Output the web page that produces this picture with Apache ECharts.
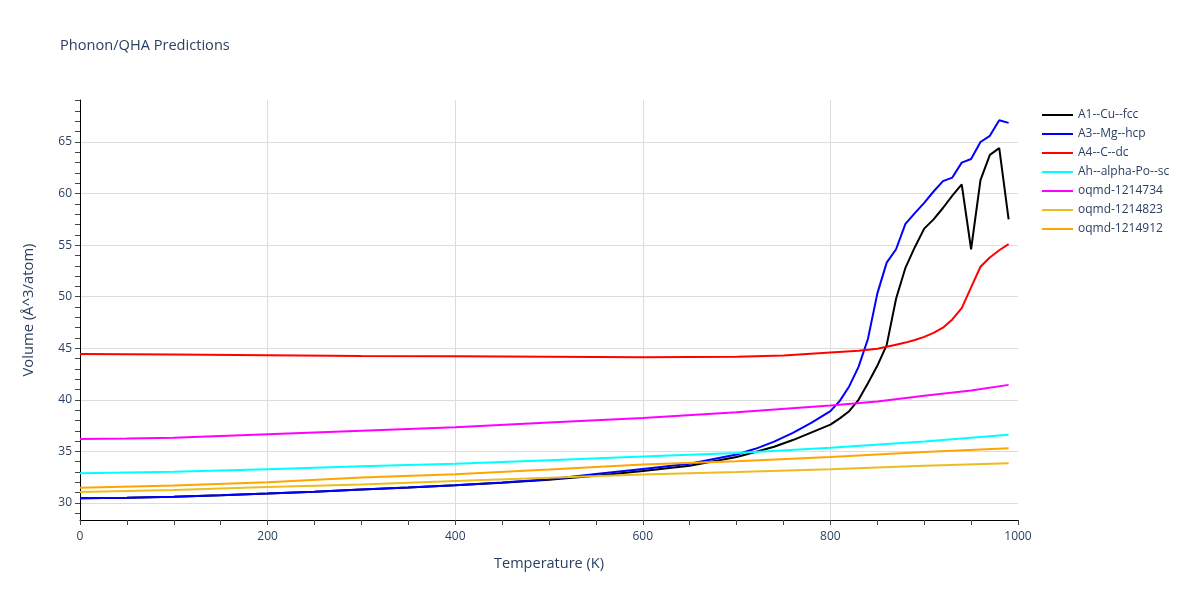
<!DOCTYPE html>
<html>
<head>
<meta charset="utf-8">
<script src="https://cdn.jsdelivr.net/npm/echarts@6/dist/echarts.min.js"></script>
<style>
html,body{margin:0;padding:0;background:#fff;}
#chart{width:1200px;height:600px;}
</style>
</head>
<body>
<div id="chart"></div>
<script>
// ---- data ----
const seriesNames = ['A1--Cu--fcc','A3--Mg--hcp','A4--C--dc','Ah--alpha-Po--sc','oqmd-1214734','oqmd-1214823','oqmd-1214912'];

const cuTemps = [0,50,100,150,200,250,300,350,400,450,500,550,600,650,700,720,740,760,780,800,810,820,830,840,850,860,870,880,890,900,910,920,930,940,950,960,970,980,990];
const cuVol   = [30.45,30.5,30.6,30.75,30.92,31.1,31.3,31.5,31.72,31.97,32.25,32.65,33.1,33.6,34.45,34.95,35.45,36.1,36.85,37.6,38.2,38.9,40.0,41.6,43.3,45.3,49.8,52.8,54.8,56.6,57.5,58.6,59.8,60.9,54.6,61.3,63.75,64.4,57.5];

const mgTemps = [0,50,100,150,200,250,300,350,400,450,500,550,600,650,700,720,740,760,780,800,810,820,830,840,850,860,870,880,890,900,910,920,930,940,950,960,970,980,990];
const mgVol   = [30.45,30.5,30.6,30.75,30.92,31.1,31.3,31.5,31.72,31.98,32.3,32.8,33.3,33.8,34.7,35.25,35.95,36.8,37.8,38.9,39.9,41.3,43.2,45.9,50.3,53.3,54.6,57.06,58.1,59.1,60.2,61.2,61.55,63.0,63.35,65.0,65.6,67.1,66.85];

const cTemps = [0,100,200,300,400,500,600,700,750,800,830,850,860,870,880,890,900,910,920,930,940,950,960,970,980,990];
const cVol   = [44.45,44.4,44.32,44.26,44.22,44.17,44.12,44.18,44.3,44.58,44.75,44.95,45.15,45.35,45.55,45.8,46.1,46.5,47.0,47.8,48.9,50.9,52.9,53.8,54.5,55.1];

const poTemps = [0,100,200,300,400,500,600,700,800,900,990];
const poVol   = [32.88,33.04,33.28,33.55,33.8,34.15,34.5,34.85,35.36,35.95,36.62];

const o734Temps = [0,50,100,200,300,400,500,600,700,800,850,900,950,990];
const o734Vol   = [36.2,36.25,36.33,36.66,37.0,37.34,37.8,38.25,38.8,39.45,39.85,40.4,40.9,41.45];

const o823Temps = [0,100,200,300,400,500,600,700,800,900,990];
const o823Vol   = [31.06,31.25,31.54,31.8,32.12,32.44,32.76,33.0,33.28,33.6,33.85];

const o912Temps = [0,100,200,300,400,500,600,700,800,900,990];
const o912Vol   = [31.48,31.7,32.0,32.47,32.79,33.24,33.72,34.05,34.45,34.95,35.3];

const colors = ['#000000','#0000ff','#ff0000','#00ffff','#ff00ff','#ebbd1e','#ffa500'];

const xTickValues = [0,50,100,150,200,250,300,350,400,450,500,550,600,650,700,750,800,850,900,950,1000];
const xLabelValues = [0,200,400,600,800,1000];
const xGridValues = [200,400,600,800];
const yTickValues = [29,30,31,32,33,34,35,36,37,38,39,40,41,42,43,44,45,46,47,48,49,50,51,52,53,54,55,56,57,58,59,60,61,62,63,64,65,66,67,68,69];
const yLabelValues = [30,35,40,45,50,55,60,65];

const X_MIN = 0, X_MAX = 1000, Y_MIN = 28.35, Y_MAX = 69.07;

// ---- build ----
function pairs(t, v){ return t.map((x,i)=>[x, v[i]]); }
const allData = [
  pairs(cuTemps, cuVol), pairs(mgTemps, mgVol), pairs(cTemps, cVol),
  pairs(poTemps, poVol), pairs(o734Temps, o734Vol), pairs(o823Temps, o823Vol), pairs(o912Temps, o912Vol)
];

const textColor = '#2a3f5f';
const font = '"Open Sans", "Noto Sans", sans-serif';
const chart = echarts.init(document.getElementById('chart'));
chart.setOption({
  animation: false,
  backgroundColor: '#ffffff',
  textStyle: {fontFamily: font},
  title: {
    text: 'Phonon/QHA Predictions',
    left: 60, top: 38, padding: 0,
    textStyle: {fontFamily: font, fontSize: 14.6, fontWeight: 'normal', color: textColor}
  },
  legend: {
    orient: 'vertical', left: 1042, top: 109, padding: 0,
    icon: 'rect', itemWidth: 31, itemHeight: 2, itemGap: 7,
    textStyle: {fontFamily: font, fontSize: 12, color: textColor},
    data: seriesNames
  },
  grid: {left: 80, right: 182, top: 100, bottom: 80, containLabel: false},
  xAxis: [{
    type: 'value', min: X_MIN, max: X_MAX,
    name: 'Temperature (K)', nameLocation: 'middle', nameGap: 36,
    nameTextStyle: {fontFamily: font, fontSize: 14.5, color: textColor},
    axisLine: {show: true, onZero: false, lineStyle: {color: '#000', width: 1}},
    axisTick: {show: true, inside: false, length: 5, customValues: xTickValues, lineStyle: {color: '#444'}},
    axisLabel: {show: true, margin: 11, fontSize: 12, color: textColor, fontFamily: font, customValues: xLabelValues,
      formatter: v => String(v)},
    splitLine: {show: false}
  }, {
    type: 'value', min: X_MIN, max: X_MAX, position: 'bottom',
    axisLine: {show: false}, axisLabel: {show: false},
    axisTick: {show: false, customValues: xGridValues},
    splitLine: {show: true, lineStyle: {color: '#dddddd', width: 1}}
  }],
  yAxis: [{
    type: 'value', min: Y_MIN, max: Y_MAX,
    name: 'Volume (Å^3/atom)', nameLocation: 'middle', nameGap: 44, nameRotate: 90,
    nameTextStyle: {fontFamily: font, fontSize: 14.8, color: textColor},
    axisLine: {show: true, onZero: false, lineStyle: {color: '#000', width: 1}},
    axisTick: {show: true, inside: false, length: 5, customValues: yTickValues, lineStyle: {color: '#444'}},
    axisLabel: {show: true, margin: 8, fontSize: 12, color: textColor, fontFamily: font, customValues: yLabelValues},
    splitLine: {show: false}
  }, {
    type: 'value', min: Y_MIN, max: Y_MAX, position: 'left',
    axisLine: {show: false}, axisLabel: {show: false},
    axisTick: {show: false, customValues: yLabelValues},
    splitLine: {show: true, lineStyle: {color: '#dddddd', width: 1}}
  }],
  series: seriesNames.map((n, i) => ({
    name: n, type: 'line', xAxisIndex: 0, yAxisIndex: 0,
    data: allData[i], symbol: 'none', showSymbol: false,
    lineStyle: {color: colors[i], width: 2}, itemStyle: {color: colors[i]},
    smooth: false
  }))
});
</script>
</body>
</html>
